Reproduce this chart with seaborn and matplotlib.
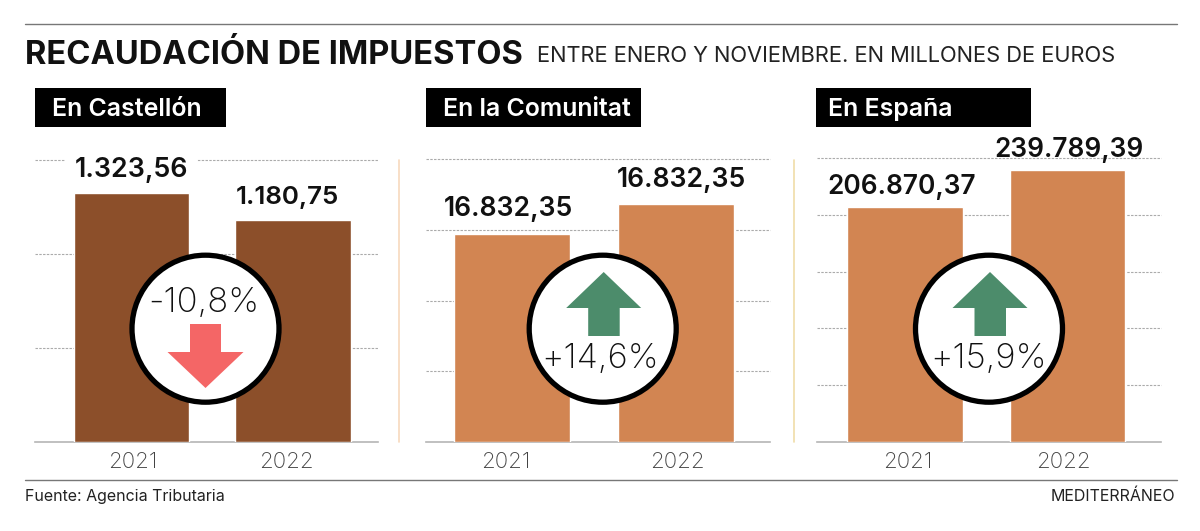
import matplotlib
matplotlib.use('Agg')
import matplotlib.pyplot as plt
import seaborn as sns
from matplotlib.patches import Circle, Polygon, Rectangle

# Data
years = ['2021', '2022']
panel_titles = ['En Castellón', 'En la Comunitat', 'En España']
castellon = [1323.56, 1180.75]
comunitat = [14688.0, 16832.35]  # the 2021 label repeats 16.832,35, the bar is shorter
espana = [206870.37, 239789.39]
castellon_labels = ['1.323,56', '1.180,75']
comunitat_labels = ['16.832,35', '16.832,35']
espana_labels = ['206.870,37', '239.789,39']
changes = ['-10,8%', '+14,6%', '+15,9%']
y_maxes = [1500, 20000, 250000]
y_steps = [500, 5000, 50000]

BROWN = '#8C4F2A'
ORANGE = '#D28552'
GREEN = '#4C8C6B'
RED = '#F46666'

W, H = 1200, 531
sns.set_theme(style='white')
plt.rcParams['font.family'] = ['Inter', 'DejaVu Sans']

fig = plt.figure(figsize=(W / 100, H / 100), dpi=100, facecolor='white')


def panel(values, color, x0, x1, top, xlim, bar_width, y_max, y_step):
    # pixel box of the plot area, y from the top of the image
    bottom = 441.7
    ax = fig.add_axes([x0 / W, 1 - bottom / H, (x1 - x0) / W, (bottom - top) / H])
    sns.barplot(x=years, y=values, color=color, saturation=1, width=bar_width, ax=ax, zorder=3)
    ax.set_xlim(*xlim)
    ax.set_ylim(0, y_max)
    ax.set_yticks(range(y_step, y_max + 1, y_step))
    ax.grid(axis='y', color='#ababab', linestyle=(0, (2.2, 1.2)), linewidth=0.8, clip_on=False)
    ax.set_axisbelow(True)
    ax.tick_params(left=False, bottom=False, labelleft=False, labelbottom=False)
    for side in ['top', 'left', 'right']:
        ax.spines[side].set_visible(False)
    ax.spines['bottom'].set_color('#b5b5b5')
    ax.spines['bottom'].set_linewidth(1.2)
    ax.patch.set_alpha(0)
    return ax


panel(castellon, BROWN, 35, 378, 160, (-0.596, 1.524), 0.714, y_maxes[0], y_steps[0])
panel(comunitat, ORANGE, 426, 770, 159.3, (-0.523, 1.570), 0.707, y_maxes[1], y_steps[1])
panel(espana, ORANGE, 817, 1161, 158.3, (-0.543, 1.576), 0.711, y_maxes[2], y_steps[2])

# Overlay in image pixels for header, labels and badges
ov = fig.add_axes([0, 0, 1, 1], zorder=10)
ov.set_xlim(0, W)
ov.set_ylim(H, 0)
ov.axis('off')

ov.plot([25, 1177], [23.5, 23.5], color='#777777', lw=1)
ov.plot([25, 1177], [480, 480], color='#777777', lw=1)
ov.plot([399, 399], [160, 442], color='#F7D9BE', lw=1.2)
ov.plot([793.5, 793.5], [160, 442], color='#F0DDA8', lw=1.2)

ov.text(25, 64, 'RECAUDACIÓN DE IMPUESTOS', fontsize=23.5, fontweight='bold', color='#111111')
ov.text(537, 62, 'ENTRE ENERO Y NOVIEMBRE. EN MILLONES DE EUROS', fontsize=15.75, color='#222222')

boxes = [(35, 226, 52), (426, 641, 443), (815.5, 1031, 828)]
for (bx0, bx1, tx), title in zip(boxes, panel_titles):
    ov.add_patch(Rectangle((bx0, 88), bx1 - bx0, 39, color='black', lw=0))
    ov.text(tx, 116, title, fontsize=17.9, fontweight='semibold', color='white')

value_labels = castellon_labels + comunitat_labels + espana_labels
label_pos = [(131, 177), (287.5, 204), (508, 216), (681, 187), (902, 194), (1069.5, 157)]
label_sizes = [19.3, 18.7, 19.1, 19.1, 18.9, 18.9]
for i, (text, (lx, ly)) in enumerate(zip(value_labels, label_pos)):
    t = ov.text(lx, ly, text, fontsize=label_sizes[i], fontweight='semibold', color='#111111', ha='center')
    if i == 0:
        t.set_bbox(dict(facecolor='white', edgecolor='none', pad=7))

year_x = [133, 286.5, 505.5, 677.5, 907.5, 1063.5]
for i, yx in enumerate(year_x):
    ov.text(yx, 468, years[i % 2], fontsize=16, fontweight='light', color='#444444', ha='center')

# Badges
centres = [205.5, 602.7, 989]
for cx in centres:
    ov.add_patch(Circle((cx, 328.7), 73.5, facecolor='white', edgecolor='black', lw=3.8))


def arrow_shape(cx, up):
    if up:
        return [(cx + 1, 272), (cx + 38.5, 308), (cx + 17, 308), (cx + 17, 336),
                (cx - 14.5, 336), (cx - 14.5, 308), (cx - 36.5, 308)]
    return [(cx, 388), (cx + 38, 352), (cx + 15.5, 352), (cx + 15.5, 324),
            (cx - 15.5, 324), (cx - 15.5, 352), (cx - 38, 352)]


ov.add_patch(Polygon(arrow_shape(centres[0], False), color=RED, lw=0))
ov.add_patch(Polygon(arrow_shape(centres[1], True), color=GREEN, lw=0))
ov.add_patch(Polygon(arrow_shape(centres[2], True), color=GREEN, lw=0))

change_pos = [(204, 312), (600, 368), (989, 368)]
for text, (lx, ly) in zip(changes, change_pos):
    ov.text(lx, ly, text, fontsize=25, fontweight='light', color='#111111', ha='center')

ov.text(25, 501, 'Fuente: Agencia Tributaria', fontsize=11.5, color='#222222')
ov.text(1175, 501, 'MEDITERRÁNEO', fontsize=11.5, color='#222222', ha='right')

plt.savefig('out.png', dpi=100)
plt.close()
